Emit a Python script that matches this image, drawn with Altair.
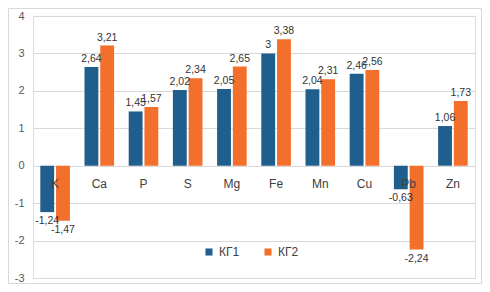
import altair as alt
import pandas as pd

categories = ["K", "Ca", "P", "S", "Mg", "Fe", "Mn", "Cu", "Pb", "Zn"]
series_names = ["КГ1", "КГ2"]
kg1 = [-1.24, 2.64, 1.45, 2.02, 2.05, 3.0, 2.04, 2.46, -0.63, 1.06]
kg2 = [-1.47, 3.21, 1.57, 2.34, 2.65, 3.38, 2.31, 2.56, -2.24, 1.73]
y_ticks = [-3, -2, -1, 0, 1, 2, 3, 4]
colors = ["#205f8d", "#f26f2c"]


def fmt(v):
    s = f"{v:.2f}".rstrip("0").rstrip(".")
    return s.replace(".", ",")


rows = []
for name, vals in zip(series_names, [kg1, kg2]):
    for c, v in zip(categories, vals):
        rows.append({"cat": c, "series": name, "value": v, "label": fmt(v)})
df = pd.DataFrame(rows)
cat_df = pd.DataFrame({"cat": categories, "value": [0] * len(categories)})

PL = 25
W, H = 445 + 30 - 8 - PL, 262
FONT = "Liberation Sans"

x_enc = alt.X("cat:N", sort=categories, axis=None,
              scale=alt.Scale(paddingInner=0.33, paddingOuter=0.165))
xo_enc = alt.XOffset("series:N", sort=series_names,
                     scale=alt.Scale(paddingInner=0.12))
y_scale = alt.Scale(domain=[-3, 4], nice=False, zero=False)
y_axis = alt.Axis(values=y_ticks, title=None, grid=True,
                  gridColor="#d9d9d9", domain=False, ticks=False,
                  labelColor="#595959", labelFontSize=11,
                  labelFont=FONT, labelPadding=9,
                  labelOverlap=False, labelBound=False,
                  labelFlush=False, tickCount=8,
                  labelExpr="replace(datum.label, '\u2212', '-')")


def y_enc():
    return alt.Y("value:Q", scale=y_scale, axis=y_axis, title=None)


base = alt.Chart(df)

bars = base.mark_bar().encode(
    x=x_enc,
    xOffset=xo_enc,
    y=y_enc(),
    color=alt.Color("series:N", sort=series_names,
                    scale=alt.Scale(domain=series_names, range=colors),
                    legend=alt.Legend(title=None, orient="none",
                                      direction="horizontal",
                                      legendX=203 - 8 - PL, legendY=230,
                                      symbolType="square", symbolSize=50,
                                      symbolStrokeWidth=0,
                                      labelFont=FONT, labelFontSize=12,
                                      labelColor="#404040", labelOffset=4,
                                      columnPadding=22)),
)

pos_labels = base.transform_filter("datum.value >= 0").mark_text(
    baseline="bottom", dy=-3, fontSize=10.5, font=FONT, color="#333333"
).encode(x=x_enc, xOffset=xo_enc, y=y_enc(), text="label:N")

neg_labels = base.transform_filter("datum.value < 0").mark_text(
    baseline="top", dy=4, fontSize=10.5, font=FONT, color="#333333"
).encode(x=x_enc, xOffset=xo_enc, y=y_enc(), text="label:N")

cat_labels = alt.Chart(cat_df).mark_text(
    baseline="middle", dy=18, fontSize=12, font=FONT, color="#404040"
).encode(x=alt.X("cat:N", sort=categories, axis=None),
         y=y_enc(), text="cat:N")

frame = alt.Chart(pd.DataFrame({"a": [0]})).mark_rect(
    filled=False, stroke="#d9d9d9", strokeWidth=1
).encode(x=alt.value(-PL + 0.5), x2=alt.value(W + 6.5),
         y=alt.value(-7.5), y2=alt.value(H + 5.5))

chart = alt.layer(bars, pos_labels, neg_labels, cat_labels, frame).properties(
    width=W, height=H,
    autosize=alt.AutoSizeParams(type="none"),
    padding={"left": PL, "top": 8, "right": 7, "bottom": 6},
).configure_view(stroke=None).configure(background="white")

chart.save("out.html", embed_options={"renderer": "svg", "actions": False})
